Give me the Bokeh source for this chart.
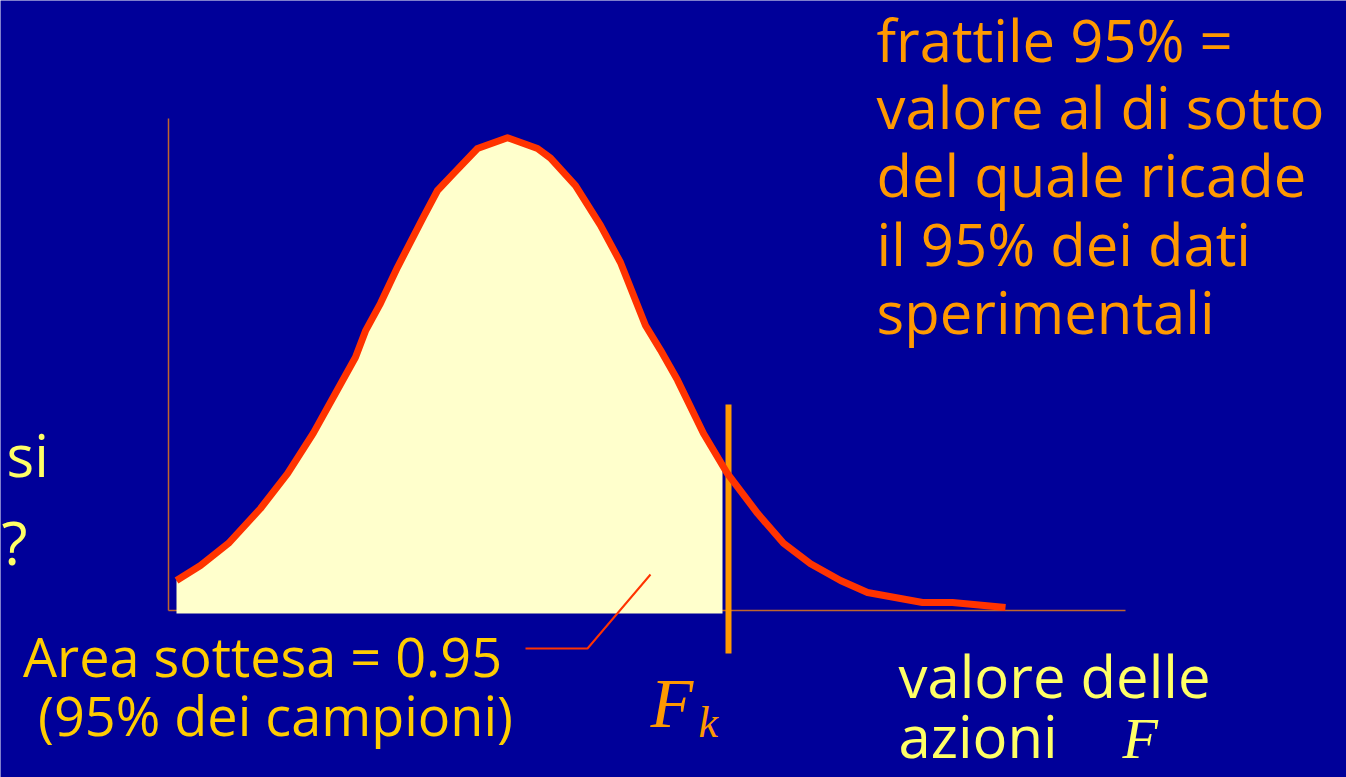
from bokeh.plotting import figure
from bokeh.models import Range1d
from bokeh.core.properties import value
from bokeh.embed import file_html
from bokeh.resources import INLINE
import numpy as np

# Values of the actions F (arbitrary units) and probability density of the experimental data
F_values = [0.08, 0.32, 0.60, 0.92, 1.19, 1.45, 1.67, 1.87, 1.97, 2.12, 2.29, 2.55,
            2.69, 2.85, 3.09, 3.39, 3.69, 3.82, 4.07, 4.32, 4.52, 4.77, 4.92, 5.09,
            5.35, 5.59, 5.89, 6.15, 6.42, 6.72, 6.99, 7.54, 7.84, 8.37]
density = [0.025, 0.0375, 0.056, 0.085, 0.114, 0.148, 0.181, 0.211, 0.233, 0.256, 0.286, 0.328,
           0.350, 0.364, 0.385, 0.394, 0.385, 0.377, 0.354, 0.321, 0.290, 0.2375, 0.217, 0.192,
           0.1475, 0.114, 0.081, 0.056, 0.039, 0.025, 0.015, 0.0067, 0.0067, 0.0025]

# 95% fractile of the actions
F_k = 5.6
area_label = "Area sottesa = 0.95"

# extent of the drawn axes
x_axis_end = 9.57
y_axis_end = 0.41

W, H = 1346, 777
BG = "#000099"

# pixel layout of the page -> data coordinates
X0, XS = 168.0, 100.0     # pixel x of F = 0, pixels per unit of F
Y0, YS = 610.0, 1200.0    # pixel y of density 0, pixels per unit of density
TEXT_RAISE = 24.0         # the SVG text is set this many pixels below its anchor


def dx(px):
    return (px - X0) / XS


def dy(py):
    return (Y0 - py) / YS


p = figure(width=W, height=H, output_backend="svg", toolbar_location=None,
           x_axis_type=None, y_axis_type=None, min_border=0,
           x_range=Range1d(dx(0), dx(W)), y_range=Range1d(dy(H), dy(0)))
p.background_fill_color = BG
p.border_fill_color = BG
p.outline_line_color = None
p.grid.visible = False

# axes
axis_color = "#C0652E"
p.segment(x0=[0, 0], y0=[0, 0], x1=[x_axis_end, 0], y1=[0, y_axis_end],
          line_color=axis_color, line_width=1.5)

# shaded area under the density up to F_k
F_arr = np.array(F_values)
d_arr = np.array(density)
fill_x = np.append(F_arr[F_arr < F_k], F_k - 0.06)
fill_top = np.interp(fill_x, F_arr, d_arr)
p.varea(x=fill_x, y1=np.full(len(fill_x), -0.0025), y2=fill_top, fill_color="#FFFFCC")

# leader line from the area label into the shaded region
p.line(x=[dx(525), dx(587), dx(650)], y=[dy(648), dy(648), dy(574)],
       line_color="#FF3300", line_width=2)

# fractile marker
p.segment(x0=[F_k], y0=[dy(404)], x1=[F_k], y1=[dy(653)],
          line_color="#FF9900", line_width=6)

# density curve
p.line(x=F_values, y=density, line_color="#FF3300", line_width=7, line_join="round")

FONT = "Open Sans"


def add_text(txt, px, py, size, color, align="left", font=FONT, style="normal"):
    p.text(x=[dx(px)], y=[dy(py - TEXT_RAISE)], text=[txt], text_font=value(font),
           text_font_size=f"{size}px", text_color=color,
           text_align=align, text_baseline="alphabetic",
           text_font_style=style)


# definition of the fractile
orange = "#FF9900"
for line, base in [("frattile 95% =", 63), ("valore al di sotto", 130),
                   ("del quale ricade", 198), ("il 95% dei dati", 267),
                   ("sperimentali", 335)]:
    add_text(line, 876, base, 58, orange)

# area label
gold = "#FFCC00"
add_text(area_label, 262, 679, 54, gold, align="center")
add_text("(95% dei campioni)", 275, 738, 54, gold, align="center")

# fractile symbol
add_text("F", 650, 727, 70, orange, font="Liberation Serif", style="italic")
add_text("k", 698, 746, 44, orange, font="Liberation Serif", style="italic")

# horizontal axis title
yellow = "#FFFF66"
add_text("valore delle", 898, 699, 58, yellow)
add_text("azioni", 898, 759, 58, yellow)
add_text("F", 1122, 762, 58, yellow, font="Liberation Serif", style="italic")

# text running in from the left margin
add_text("si", 6, 478, 58, yellow)
add_text("?", 27, 565, 60, yellow, align="right")

open("out.html", "w").write(file_html(p, INLINE))
